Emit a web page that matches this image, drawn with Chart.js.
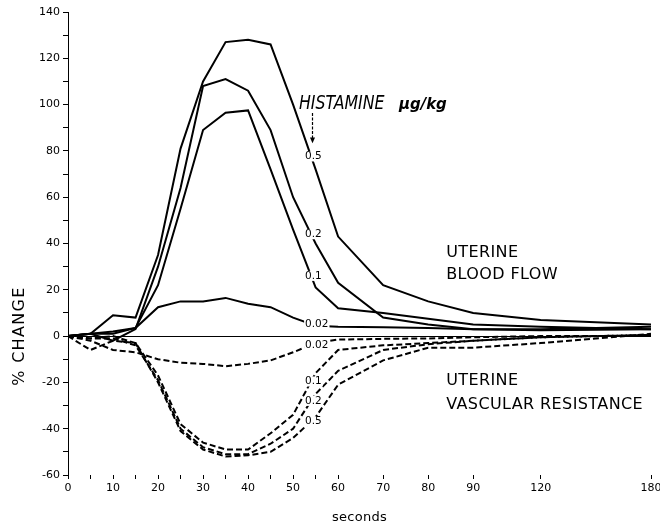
<!DOCTYPE html>
<html lang="en">
<head>
<meta charset="UTF-8">
<title>Histamine: uterine blood flow and vascular resistance</title>
<script src="https://cdn.jsdelivr.net/npm/chart.js@4.4.1/dist/chart.umd.min.js"></script>
<style>
    body { margin: 0; background: #fff; }
    #wrap { width: 660px; height: 526px; }
</style>
</head>
<body>
<div id="wrap"><canvas id="chart" width="660" height="526"></canvas></div>
<script>
    // seconds after the injection
    const TIMES = [0, 5, 10, 15, 20, 25, 30, 35, 40, 45, 50, 55, 60, 70, 80, 90, 120, 180];

    // % change in uterine blood flow (solid lines), histamine ug/kg
    const FLOW_05  = [0, 1, 9, 8, 35, 81, 110, 127, 128, 126, 100, 72, 43, 22, 15, 10, 7, 5];
    const FLOW_02  = [0, 1, -2, 3, 30, 64, 108, 111, 106, 89, 60, 40, 23, 8, 5, 3, 3, 4];
    const FLOW_01  = [0, 1, 1, 3.5, 22, 55, 89, 96.5, 97.5, 72, 46, 21, 12, 10, 7.5, 5, 4, 3];
    const FLOW_002 = [0, 1, 2, 3.5, 12.5, 15, 15, 16.5, 14, 12.5, 8, 4.5, 4, 3.8, 3.5, 3, 2.5, 3];

    // % change in uterine vascular resistance (dashed lines)
    const RES_05  = [0, -6, -2, -3, -20, -41, -49, -52, -51.5, -50, -44, -35, -21, -10.5, -5, -5, -3, 1];
    const RES_02  = [0, -1, -1, -4, -19, -40, -48, -51, -51, -46.5, -40, -25, -15, -6, -3.5, -2, -0.5, 0.5];
    const RES_01  = [0, -1, 0, -3, -17, -38, -46, -49, -49, -42, -34, -16, -6, -4, -3, -2, -0.5, 0.5];
    const RES_002 = [0, -2, -6, -7, -10, -11.5, -12, -13, -12, -10.5, -7, -3, -1.5, -1.2, -1, -0.5, 0, 0];

    const X_LABELED = [0, 10, 20, 30, 40, 50, 60, 70, 80, 90, 120, 180];
    const X_MINOR = [5, 15, 25, 35, 45, 55];
    const Y_MIN = -60, Y_MAX = 140, Y_STEP = 10;

    // the time axis is squeezed after 90 s
    const AXIS_T = [0, 90, 120, 180];
    const AXIS_P = [0, 90, 105, 129.5];

    function interp(xs, ys, v) {
        for (let i = 0; i < xs.length - 1; i++) {
            if (v <= xs[i + 1]) {
                return ys[i] + (ys[i + 1] - ys[i]) * (v - xs[i]) / (xs[i + 1] - xs[i]);
            }
        }
        return ys[ys.length - 1];
    }
    const toAxis = t => interp(AXIS_T, AXIS_P, t);
    const fromAxis = p => interp(AXIS_P, AXIS_T, p);

    // where the dose numbers sit on the curves
    const LABEL_T = 54;

    const NOTES = [
        { text: 'UTERINE', t: 84, v: 34.2 },
        { text: 'BLOOD FLOW', t: 84, v: 24.7 },
        { text: 'UTERINE', t: 84, v: -21.1 },
        { text: 'VASCULAR RESISTANCE', t: 84, v: -31.5 }
    ];

    function series(values, dose, dashed) {
        return {
            label: (dashed ? 'resistance ' : 'flow ') + dose,
            dose: dose,
            values: values,
            data: TIMES.map((t, i) => ({ x: toAxis(t), y: values[i] })),
            borderColor: '#000',
            borderWidth: 2,
            borderDash: dashed ? [6, 3] : [],
            pointRadius: 0,
            tension: 0,
            fill: false
        };
    }

    const annotations = {
        id: 'annotations',
        afterDatasetsDraw(chart) {
            const { ctx, scales: { x, y } } = chart;
            const px = t => x.getPixelForValue(toAxis(t));
            const py = v => y.getPixelForValue(v);
            ctx.save();
            ctx.fillStyle = '#000';

            // dose numbers, breaking the lines
            ctx.font = '10.5px "DejaVu Sans"';
            ctx.textBaseline = 'middle';
            ctx.textAlign = 'left';
            chart.data.datasets.forEach(ds => {
                const yy = py(interp(TIMES, ds.values, LABEL_T));
                const xx = px(LABEL_T) - 6;
                const w = ctx.measureText(ds.dose).width;
                ctx.fillStyle = '#fff';
                ctx.fillRect(xx - 1, yy - 5, w + 2, 10);
                ctx.fillStyle = '#000';
                ctx.fillText(ds.dose, xx, yy);
            });

            // block captions
            ctx.font = '16px "DejaVu Sans"';
            ctx.letterSpacing = '0.4px';
            ctx.textBaseline = 'alphabetic';
            NOTES.forEach(n => ctx.fillText(n.text, px(n.t), py(n.v)));
            ctx.letterSpacing = '0px';

            // HISTAMINE ug/kg with the arrow
            ctx.save();
            ctx.translate(px(51.3), py(98.1));
            ctx.scale(0.83, 1);
            ctx.font = 'italic 19px "DejaVu Sans"';
            ctx.fillText('HISTAMINE', 0, 0);
            ctx.restore();
            ctx.font = 'italic bold 15px "DejaVu Sans"';
            ctx.fillText('\u00b5g/kg', px(73.5), py(98.3));

            const ax = Math.round(px(54.2)) + 0.5;
            ctx.strokeStyle = '#000';
            ctx.lineWidth = 1.2;
            ctx.setLineDash([3, 1.5]);
            ctx.beginPath();
            ctx.moveTo(ax, py(96.4));
            ctx.lineTo(ax, py(85.5));
            ctx.stroke();
            ctx.setLineDash([]);
            ctx.beginPath();
            ctx.moveTo(ax - 2.5, py(85.8));
            ctx.lineTo(ax + 2.5, py(85.8));
            ctx.lineTo(ax, py(83.3));
            ctx.closePath();
            ctx.fill();

            // axis titles
            ctx.font = '16px "DejaVu Sans"';
            ctx.letterSpacing = '1.3px';
            ctx.textAlign = 'center';
            ctx.save();
            ctx.translate(24, py(0));
            ctx.rotate(-Math.PI / 2);
            ctx.fillText('% CHANGE', 0, 0);
            ctx.restore();
            ctx.letterSpacing = '0.3px';
            ctx.font = '13px "DejaVu Sans"';
            ctx.fillText('seconds', (x.left + x.right) / 2, 521);
            ctx.restore();
        }
    };

    new Chart(document.getElementById('chart'), {
        type: 'line',
        data: {
            datasets: [
                series(FLOW_05, '0.5', false),
                series(FLOW_02, '0.2', false),
                series(FLOW_01, '0.1', false),
                series(FLOW_002, '0.02', false),
                series(RES_002, '0.02', true),
                series(RES_01, '0.1', true),
                series(RES_02, '0.2', true),
                series(RES_05, '0.5', true)
            ]
        },
        options: {
            responsive: false,
            animation: false,
            devicePixelRatio: 1,
            layout: { padding: { top: 12, right: 9, left: 0, bottom: 0 } },
            plugins: { legend: { display: false }, tooltip: { enabled: false } },
            scales: {
                x: {
                    type: 'linear',
                    min: 0,
                    max: toAxis(180),
                    afterBuildTicks: s => {
                        s.ticks = X_LABELED.concat(X_MINOR).sort((a, b) => a - b)
                            .map(t => ({ value: toAxis(t) }));
                    },
                    afterFit: s => {
                        s.height = 51;
                        s.paddingLeft = 0;
                        s.paddingRight = 0;
                    },
                    ticks: {
                        autoSkip: false,
                        maxRotation: 0,
                        padding: 3,
                        color: '#000',
                        font: { family: 'DejaVu Sans', size: 11 },
                        callback: v => {
                            const t = Math.round(fromAxis(v));
                            return X_LABELED.includes(t) ? String(t) : '';
                        }
                    },
                    grid: { drawOnChartArea: false, tickLength: 4, color: '#000', lineWidth: 1 },
                    border: { display: false }
                },
                y: {
                    min: Y_MIN,
                    max: Y_MAX,
                    afterFit: s => { s.width = 68; },
                    ticks: {
                        stepSize: Y_STEP,
                        padding: 3,
                        color: '#000',
                        font: { family: 'DejaVu Sans', size: 11 },
                        callback: v => (v % 20 === 0 ? String(v) : '')
                    },
                    grid: {
                        color: c => (c.tick && c.tick.value === 0 ? '#000' : 'rgba(0,0,0,0)'),
                        tickColor: '#000',
                        tickLength: 5,
                        lineWidth: 1
                    },
                    border: { display: true, color: '#000', width: 1 }
                }
            }
        },
        plugins: [annotations]
    });
</script>
</body>
</html>
